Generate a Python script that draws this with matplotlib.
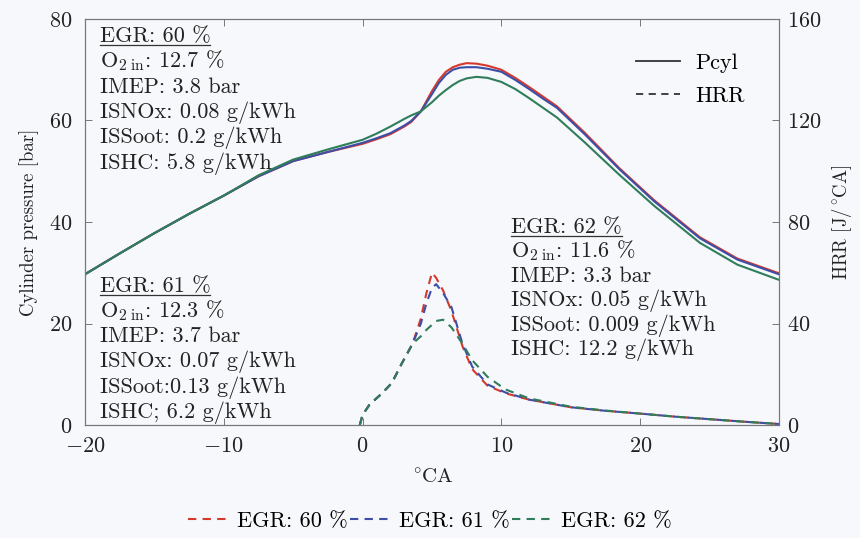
import numpy as np
import matplotlib
matplotlib.use("Agg")
import matplotlib.pyplot as plt
from matplotlib.lines import Line2D

plt.rcParams['font.family'] = ['cmr10', 'DejaVu Serif']
plt.rcParams['mathtext.fontset'] = 'cm'
plt.rcParams['axes.formatter.use_mathtext'] = True
plt.rcParams['axes.unicode_minus'] = True

# crank angle for cylinder pressure [deg CA]
ca_p = [-20, -17.5, -15, -12.5, -10, -7.5, -5, -2.5, 0, 1, 2, 3, 3.5, 4.2, 5, 5.5,
        6, 6.5, 7, 7.5, 8.2, 9, 10, 11, 12, 13, 14, 16, 18.5, 21, 24.3, 27, 30]
p_60 = [29.7, 33.8, 37.8, 41.6, 45.2, 49.0, 52.0, 53.8, 55.4, 56.3, 57.3, 58.8, 59.7, 61.8, 65.8, 68.0,
        69.6, 70.5, 71.0, 71.3, 71.2, 70.8, 70.0, 68.4, 66.6, 64.7, 62.8, 57.6, 50.6, 44.3, 37.0, 32.8, 29.9]
p_61 = [29.7, 33.8, 37.8, 41.6, 45.2, 49.0, 52.0, 53.8, 55.6, 56.5, 57.5, 59.0, 59.9, 61.8, 65.2, 67.4,
        69.0, 70.0, 70.4, 70.5, 70.5, 70.2, 69.6, 68.0, 66.2, 64.3, 62.5, 57.3, 50.4, 44.1, 36.8, 32.6, 29.7]
p_62 = [29.7, 33.8, 37.8, 41.6, 45.2, 49.2, 52.3, 54.3, 56.2, 57.4, 58.8, 60.3, 61.0, 61.8, 63.6, 64.9,
        66.0, 67.0, 67.8, 68.3, 68.6, 68.4, 67.6, 66.2, 64.4, 62.5, 60.6, 55.7, 49.3, 43.2, 35.9, 31.6, 28.6]

# crank angle for heat release rate [deg CA]
ca_h = [-0.2, 0, 0.5, 1.4, 2.1, 2.8, 3.6, 4.2, 4.6, 5.0, 5.3, 5.8, 6.4, 7.2, 7.9, 9, 10.3, 12, 15, 17.5, 20, 22.5, 25, 27.5, 30]
hrr_60 = [0, 4, 8, 12.5, 16.5, 24, 32, 42, 52, 60, 58, 53, 45, 31, 22, 15.5, 12.5, 10, 7, 5.6, 4.5, 3.3, 2.3, 1.3, 0.4]
hrr_61 = [0, 4, 8, 12.5, 16.5, 24, 32, 40, 48, 54, 55.5, 52, 46.5, 32, 23, 16, 12.8, 10, 7, 5.6, 4.5, 3.3, 2.3, 1.3, 0.4]
hrr_62 = [0, 4, 8, 12.5, 16.5, 24, 32, 35, 37.5, 39.5, 41, 41.5, 38.5, 32, 25.5, 19, 14, 10.5, 7.2, 5.7, 4.5, 3.3, 2.3, 1.3, 0.4]

egr_labels = ['EGR: 60 %', 'EGR: 61 %', 'EGR: 62 %']
colors = ['#d6392b', '#3c4ea8', '#2f7d5a']

info = [
    ['EGR: 60 %', r'O$_{2\ \mathrm{in}}$: 12.7 %', 'IMEP: 3.8 bar', 'ISNOx: 0.08 g/kWh',
     'ISSoot: 0.2 g/kWh', 'ISHC: 5.8 g/kWh'],
    ['EGR: 61 %', r'O$_{2\ \mathrm{in}}$: 12.3 %', 'IMEP: 3.7 bar', 'ISNOx: 0.07 g/kWh',
     'ISSoot:0.13 g/kWh', 'ISHC; 6.2 g/kWh'],
    ['EGR: 62 %', r'O$_{2\ \mathrm{in}}$: 11.6 %', 'IMEP: 3.3 bar', 'ISNOx: 0.05 g/kWh',
     'ISSoot: 0.009 g/kWh', 'ISHC: 12.2 g/kWh'],
]
# baseline of the first line of each text block (CA, bar)
info_pos = [(-18.95, 75.5), (-18.95, 26.2), (10.7, 37.8)]
info_step = [5.0, 4.95, 4.8]

bg = '#f6f8fb'
fs = 16
fig = plt.figure(figsize=(8.6, 5.38), dpi=100, facecolor=bg)
ax = fig.add_axes([0.0988, 0.2100, 0.8070, 0.7547], facecolor=bg)
ax2 = ax.twinx()

for p, c in zip([p_60, p_61, p_62], colors):
    ax.plot(ca_p, p, color=c, lw=1.5, solid_capstyle='round')
for h, c in zip([hrr_60, hrr_61, hrr_62], colors):
    ax2.plot(ca_h, h, color=c, lw=1.5, ls=(0, (4, 3)))

ax.set_xlim(-20, 30)
ax.set_ylim(0, 80)
ax2.set_ylim(0, 160)
ax.set_xticks([-20, -10, 0, 10, 20, 30])
ax.set_yticks([0, 20, 40, 60, 80])
ax2.set_yticks([0, 40, 80, 120, 160])

for a in (ax, ax2):
    for s in a.spines.values():
        s.set_color('#777777')
        s.set_linewidth(0.8)
    a.tick_params(direction='in', labelsize=fs, length=5, width=0.7, color='#777777',
                  labelcolor='#222222')
ax.tick_params(top=True, right=False)
ax2.tick_params(left=False, right=True, pad=6)
ax.tick_params(axis='x', pad=8)
ax.tick_params(axis='y', pad=9)

ax.set_xlabel(r'$^\circ\!$CA', fontsize=15, labelpad=9, color='#222222')
ax.set_ylabel('Cylinder pressure [bar]', fontsize=13.5, labelpad=7, color='#222222')
ax2.set_ylabel(r'HRR [J/$^\circ\!$CA]', fontsize=13.5, labelpad=6, color='#222222')

# text blocks with operating point results
texts = []
for lines, (x0, y0), step in zip(info, info_pos, info_step):
    for i, s in enumerate(lines):
        t = ax.text(x0, y0 - i * step, s, fontsize=fs, va='baseline', ha='left', color='#222222')
        if i == 0:
            texts.append(t)

# underline the EGR headings just below their baseline
fig.canvas.draw()
r = fig.canvas.get_renderer()
inv = fig.transFigure.inverted()
for t in texts:
    bb = t.get_window_extent(renderer=r)
    base = ax.transData.transform(t.get_position())[1]
    x0, y0 = inv.transform((bb.x0, base - 3))
    x1, _ = inv.transform((bb.x1, base - 3))
    fig.add_artist(Line2D([x0, x1], [y0, y0], color='#333333', lw=0.9, transform=fig.transFigure))

# line style legend
style_handles = [Line2D([], [], color='#333333', lw=1.3),
                 Line2D([], [], color='#333333', lw=1.3, ls=(0, (4, 3)))]
ax2.legend(style_handles, ['Pcyl', 'HRR'], loc='upper right', bbox_to_anchor=(0.98, 0.965),
           frameon=False, fontsize=fs, handlelength=2.0, labelspacing=0.6, handletextpad=0.7)

# EGR colour legend below the axes
egr_handles = [Line2D([], [], color=c, lw=1.5, ls=(0, (4, 3))) for c in colors]
fig.legend(egr_handles, egr_labels, loc='center', bbox_to_anchor=(0.5, 0.031), ncol=3,
           frameon=False, fontsize=fs, handlelength=1.7, columnspacing=0.1, handletextpad=0.5)

fig.savefig('out.png', dpi=100, facecolor=bg)
